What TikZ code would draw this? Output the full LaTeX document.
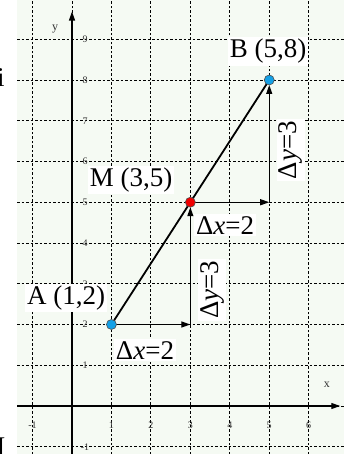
\documentclass[tikz,border=0pt]{standalone}
\usepackage{fontspec}
\setmainfont{Liberation Serif}
\usetikzlibrary{arrows.meta}
\definecolor{paper}{RGB}{245,250,243}
\definecolor{ptblue}{RGB}{20,160,230}
\definecolor{ptred}{RGB}{240,0,0}
\tikzset{
  gridline/.style={black, line width=0.8bp, dash pattern=on 2.5bp off 2bp},
  axisline/.style={-{Triangle[length=9bp,width=6bp]}, line width=1.1bp},
  deltaarrow/.style={-{Triangle[length=9bp,width=6bp]}, line width=1.2bp},
  segline/.style={line width=1.8bp},
  ticklbl/.style={font=\fontsize{10bp}{11bp}\selectfont, text=black!80, inner sep=0pt},
  axislbl/.style={font=\fontsize{12bp}{13bp}\selectfont, text=black!80, inner sep=0pt},
  lbl/.style={fill=white, inner sep=2bp, font=\fontsize{27bp}{30bp}\selectfont},
  pt/.style={circle, draw=black!70, line width=0.6bp, minimum size=10bp, inner sep=0pt},
}

\begin{document}
\begin{tikzpicture}[x=39.45bp, y=40.75bp]
\useasboundingbox (-1.825,-1.178) rectangle (6.895,9.963);
\fill[paper] (-1.394,-1.178) rectangle (6.895,9.963);

% grid
\foreach \i in {-1,...,6}
  \draw[gridline] (\i,-1.178) -- (\i,9.963);
\foreach \j in {-1,...,9}
  \draw[gridline] (-1.394,\j) -- (6.895,\j);

% axes
\coordinate (xstart) at (-1.394,0);
\coordinate (xend) at (6.8,0);
\coordinate (ystart) at (0,-1.178);
\coordinate (yend) at (0,9.68);
\draw[axisline] (xstart) -- (xend);
\draw[axisline] (ystart) -- (yend);
\node[axislbl] (xlbl) at (6.46,0.52) {x};
\node[axislbl] (ylbl) at (-0.43,9.25) {y};

\foreach \i in {-1,1,2,...,6}
  \node[ticklbl] (xt\i) at (\i,-0.47) {\i};
\foreach \j in {-1,1,2,...,9}
  \node[ticklbl] (yt\j) at (0.33,\j) {\j};

% segment and steps
\coordinate (pA) at (1,2);
\coordinate (pM) at (3,5);
\coordinate (pB) at (5,8);
\coordinate (c1) at (3,2);
\coordinate (c2) at (5,5);
\draw[segline] (pA) -- (pB);
\draw[deltaarrow] (pA) -- (c1);
\draw[deltaarrow, shorten >=5bp] (c1) -- (pM);
\draw[deltaarrow] (pM) -- (c2);
\draw[deltaarrow, shorten >=5bp] (c2) -- (pB);

\node[pt, fill=ptblue] (A) at (pA) {};
\node[pt, fill=ptred] (M) at (pM) {};
\node[pt, fill=ptblue] (B) at (pB) {};

% labels
\node[lbl] (Albl) at (-0.15,2.65) {A (1,2)};
\node[lbl] (dx1) at (1.85,1.37) {Δ\textit{x}=2};
\node[lbl, rotate=90] (dy1) at (3.55,2.85) {Δ\textit{y}=3};
\node[lbl] (Mlbl) at (1.50,5.55) {M (3,5)};
\node[lbl] (dx2) at (3.88,4.44) {Δ\textit{x}=2};
\node[lbl, rotate=90] (dy2) at (5.55,6.28) {Δ\textit{y}=3};
\node[lbl] (Blbl) at (4.97,8.70) {B (5,8)};

% cut-off letters at the left edge
\node[font=\fontsize{27bp}{30bp}\selectfont, inner sep=0pt] (cuti) at (-1.80,8.05) {i};
\node[font=\fontsize{27bp}{30bp}\selectfont, inner sep=0pt] (cutI) at (-1.80,-1.0) {I};
\end{tikzpicture}
\end{document}
